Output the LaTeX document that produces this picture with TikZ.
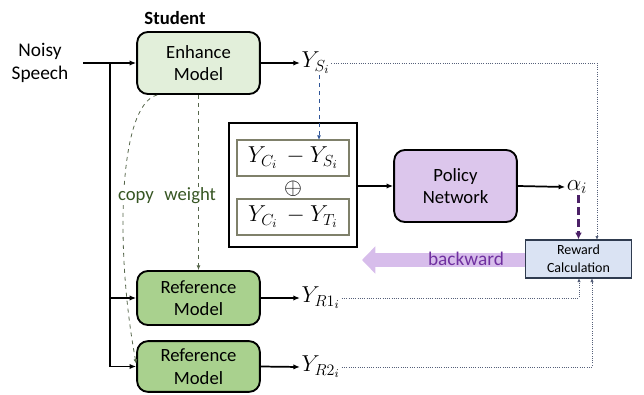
\documentclass[tikz,border=0pt]{standalone}
\usepackage{fontspec}
\setmainfont{Carlito}
\usetikzlibrary{arrows.meta,positioning,calc}

% Colours of the boxes and lines
\definecolor{enhfill}{HTML}{E2EFDA}
\definecolor{reffill}{HTML}{A9D18E}
\definecolor{polfill}{HTML}{DCC6EC}
\definecolor{rewfill}{HTML}{DAE3F3}
\definecolor{rewline}{HTML}{2F3B4F}
\definecolor{cpgreen}{HTML}{375623}
\definecolor{cpline}{HTML}{56664B}
\definecolor{dotgray}{HTML}{56607A}
\definecolor{bwfill}{HTML}{D7BDEB}
\definecolor{bwtext}{HTML}{7030A0}
\definecolor{alphaline}{HTML}{4B2067}
\definecolor{diffline}{HTML}{7F806A}
\definecolor{ysblue}{HTML}{2F5597}

\begin{document}
\begin{tikzpicture}[x=0.75pt, y=-0.75pt,
    >={Latex[length=5pt,width=4pt]},
    font=\fontsize{14}{17}\selectfont,
    model/.style={draw, line width=1.4pt, rounded corners=8pt, align=center,
        minimum width=92pt, inner sep=0pt},
    mathlbl/.style={font=\fontsize{17.5}{20}\selectfont, inner sep=1pt},
    diffbox/.style={draw=diffline, line width=0.8pt, minimum width=84pt,
        minimum height=27pt, inner sep=0pt, mathlbl},
    flow/.style={line width=1.3pt, ->},
    dotline/.style={dotgray, densely dotted, line width=0.7pt,
        -{Latex[length=3pt,width=2.5pt]}},
    copyline/.style={cpline, dashed, line width=0.6pt,
        -{Latex[length=3.5pt,width=3pt]}}]

    \useasboundingbox (0,0) rectangle (644,394);

    % Student and reference models
    \node[model, fill=enhfill, minimum height=46.5pt] (enhance) at (198.5,63) {Enhance\\Model};
    \node[model, fill=reffill, minimum height=40.5pt] (ref1) at (198.5,298) {Reference\\Model};
    \node[model, fill=reffill, minimum height=38pt] (ref2) at (198.5,366.5) {Reference\\Model};
    \node[font=\fontsize{14}{17}\selectfont\bfseries] (student) at (175,18) {Student};

    % Input
    \node[align=center, font=\fontsize{14.5}{17}\selectfont] (noisy) at (40,63) {Noisy\\Speech};
    \coordinate (in) at (83,63);
    \coordinate (split) at (110,63);
    \draw[flow] (in) -- (enhance.west);
    \draw[flow] (split) |- (ref2.west);
    \draw[flow] (split |- ref1.west) -- (ref1.west);

    % Outputs
    \node[anchor=west, mathlbl] (ys) at (300,63) {$Y_{S_i}$};
    \node[anchor=west, mathlbl] (yr1) at (300,298) {$Y_{R1_i}$};
    \node[anchor=west, mathlbl] (yr2) at (300,367) {$Y_{R2_i}$};
    \draw[flow] (enhance.east) -- (ys.west);
    \draw[flow] (ref1.east) -- (yr1.west);
    \draw[flow] (ref2.east) -- (yr2.west);

    % Differences
    \node[draw, line width=0.9pt, minimum width=96pt, minimum height=93pt] (diff) at (293,185) {};
    \node[diffbox] (diffS) at (293,158) {$Y_{C_i}\,-Y_{S_i}$};
    \node[diffbox] (diffT) at (293,217) {$Y_{C_i}\,-Y_{T_i}$};
    \node[mathlbl] (oplus) at (293,188.5) {$\oplus$};

    % Policy network and reward
    \node[model, fill=polfill, minimum height=54pt] (policy) at (455.5,186) {Policy\\Network};
    \node[draw=rewline, line width=0.9pt, fill=rewfill, align=center, minimum width=79pt,
        minimum height=28.5pt, inner sep=0pt, font=\fontsize{10.5}{13.5}\selectfont]
        (reward) at (578.5,259) {Reward\\Calculation};
    \node[mathlbl] (alpha) at (577,187) {$\alpha_i$};
    \draw[flow] (diff.east |- policy.west) -- (policy.west);
    \draw[flow] (policy.east) -- (alpha.west);
    \draw[alphaline, line width=2.2pt, dash pattern=on 6pt off 3pt,
        -{Latex[length=5pt,width=5pt]}] (alpha.south -| reward.north) -- (reward.north);

    % Backward pass
    \coordinate (bwend) at (362,260);
    \draw[bwfill, line width=10pt, -{Triangle[length=10pt,width=20pt]}]
        (reward.west |- bwend) -- (bwend);
    \node[text=bwtext, font=\fontsize{14.5}{17}\selectfont] (backward) at (466,259) {backward};

    % Signals into the reward
    \coordinate (rtop) at (597,240);
    \coordinate (rbot1) at (579,278);
    \coordinate (rbot2) at (592,278);
    \draw[dotline] (ys.east) -| (rtop);
    \draw[dotline] (yr1.east) -| (rbot1);
    \draw[dotline] (yr2.east) -| (rbot2);
    \coordinate (ysdrop) at (319,140);
    \draw[ysblue, dashed, line width=0.7pt, -{Latex[length=3.5pt,width=3pt]}]
        (ys.south -| ysdrop) -- (ysdrop);

    % Weight copy
    \draw[copyline] (enhance.south) -- (ref1.north);
    \draw[copyline] ([xshift=-31pt]enhance.south) .. controls (118,105) and (115,250) .. ([yshift=2pt]ref2.west);
    \node[fill=white, text=cpgreen, inner sep=1pt] (copyw) at (167,196) {copy\hspace{8pt}weight};

\end{tikzpicture}
\end{document}
